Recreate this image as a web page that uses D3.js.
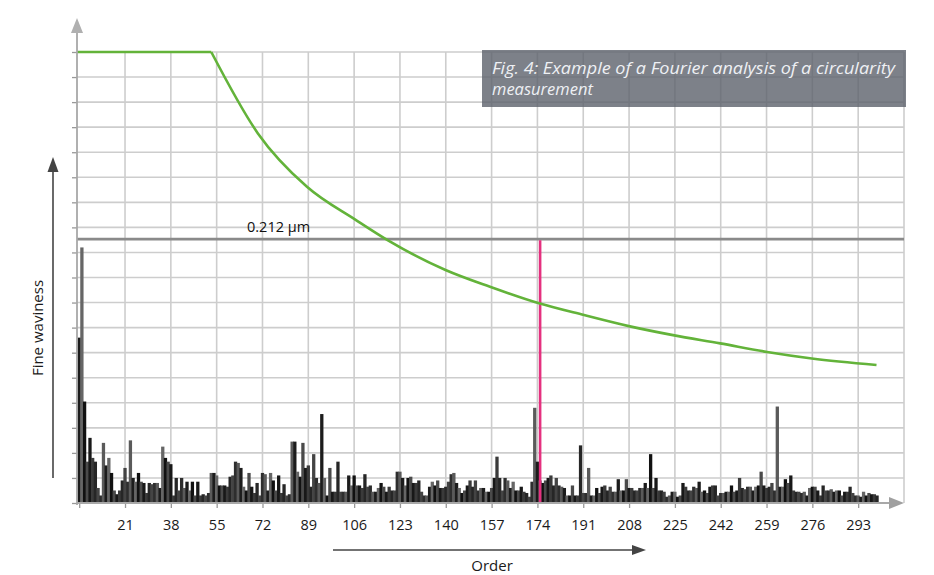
<!DOCTYPE html>
<html><head><meta charset="utf-8">
<script src="https://cdn.jsdelivr.net/npm/d3@7/dist/d3.min.js"></script>
<style>
body{margin:0;background:#fff;}
svg{display:block;font-family:"Open Sans","Noto Sans",sans-serif;}
</style>
</head><body>
<svg id="chart" width="934" height="575"></svg>
<script>
// ---------------- data ----------------
const xGridOrders = [4,21,38,55,72,89,106,123,140,157,174,191,208,225,242,259,276,293,310];
const xTickLabels = [21,38,55,72,89,106,123,140,157,174,191,208,225,242,259,276,293];
const yGridValues = [0,1,2,3,4,5,6,7,8,9,10,11,12,13,14,15,16,17,18];

const firstOrder = 4;
const amplitudes = [
 6.6,10.2,4.05,1.65,2.6,1.8,1.65,0.6,0.3,2.4,1.5,1.8,1.2,0.5,0.35,0.5,0.9,             // 4-20
 1.4,0.85,2.5,1.0,0.85,1.2,0.85,0.8,0.4,0.8,0.75,0.8,0.8,0.6,2.25,1.8,1.65,            // 21-37
 1.55,0.3,1.0,0.5,1.0,0.6,0.85,0.5,0.85,0.3,0.85,0.3,0.35,0.3,0.4,1.2,1.2,              // 38-54
 1.1,0.7,0.7,0.7,0.65,1.05,1.1,1.65,1.6,1.4,0.65,0.5,1.2,0.65,0.4,0.8,0.3,              // 55-71
 1.2,1.15,0.5,1.2,0.9,0.5,1.1,0.4,0.75,0.3,0.35,2.45,2.45,1.25,1.05,2.4,1.4,            // 72-88
 1.5,0.65,1.95,1.0,0.8,3.55,1.0,0.3,1.4,0.45,0.45,1.65,0.45,0.45,0.45,1.1,0.7,          // 89-105
 1.1,0.7,0.7,0.6,1.15,0.65,0.7,0.45,0.45,0.6,0.8,0.65,0.45,0.65,0.5,0.5,1.25,           // 106-122
 1.25,1.0,0.7,1.0,1.05,0.8,0.8,0.9,0.45,0.3,0.3,0.65,0.85,0.7,0.9,0.6,0.6,              // 123-139
 0.65,0.85,1.15,1.2,0.8,0.6,0.4,0.5,0.7,0.9,0.65,0.9,0.5,0.6,0.6,0.45,0.45,             // 140-156
 0.6,1.0,1.85,1.0,0.5,1.0,0.9,0.6,0.85,0.5,0.5,0.65,0.45,0.4,0.25,0.85,3.8,             // 157-173
 1.65,0.9,0.8,0.9,1.0,1.1,0.7,1.0,0.7,0.65,0.6,0.3,0.3,0.7,0.3,0.3,2.3,                 // 174-190
 0.4,0.4,1.4,0.3,0.3,0.6,0.4,0.65,0.7,0.5,0.65,0.45,0.45,0.95,0.5,0.5,0.95,             // 191-207
 0.6,0.6,0.5,0.5,0.6,0.6,0.8,0.6,1.95,0.6,1.0,0.5,0.5,0.45,0.25,0.3,0.45,               // 208-224
 0.45,0.25,0.3,0.8,0.65,0.5,0.5,0.65,0.6,0.85,0.45,0.5,0.4,0.65,0.7,0.7,0.3,            // 225-241
 0.4,0.4,0.45,0.45,0.7,0.45,0.5,1.0,0.6,0.55,0.65,0.65,0.5,0.65,0.7,1.25,0.7,           // 242-258
 0.6,0.65,0.8,0.5,3.85,0.65,0.65,0.95,0.8,1.1,0.5,0.45,0.45,0.4,0.45,0.3,0.6,           // 259-275
 0.65,0.65,0.5,0.3,0.7,0.5,0.5,0.55,0.45,0.5,0.5,0.3,0.45,0.45,0.65,0.4,0.3,            // 276-292
 0.3,0.25,0.45,0.3,0.4,0.35,0.35,0.3                                                     // 293-300
];

// limit (tolerance) curve
const limitOrders = [4,53,70.3,88.5,106.7,118.4,139.9,156.4,174.6,191.3,207.9,224.3,241.8,259.2,275.8,299.8];
const limitValues = [18,18,14.75,12.62,11.29,10.49,9.30,8.63,7.97,7.50,7.06,6.70,6.37,6.03,5.77,5.51];

const thresholdValue = 10.53;
const thresholdLabel = "0.212 µm";
const cutoffOrder = 175;
const barShades = ["#1c1c1c","#4a4a4a","#262626","#5a5a5a","#111111","#3a3a3a","#2e2e2e","#666666","#181818","#444444"];

const titleLines = ["Fig. 4: Example of a Fourier analysis of a circularity","measurement"];
const xAxisTitle = "Order";
const yAxisTitle = "Fine waviness";

// ---------------- drawing ----------------
const svg = d3.select("#chart");
const axisX0 = 77;
const x = d3.scaleLinear().domain([4, 310]).range([79.2, 904]);
const y = d3.scaleLinear().domain([0, 18]).range([503, 52]);
const step = x(5) - x(4);

const gridColor = "#cdcdcd";
// horizontal grid
svg.append("g").selectAll("line").data(yGridValues.filter(v => v > 0)).join("line")
  .attr("x1", axisX0).attr("x2", x(310))
  .attr("y1", d => y(d)).attr("y2", d => y(d))
  .attr("stroke", gridColor).attr("stroke-width", 1.6);
// vertical grid
svg.append("g").selectAll("line").data(xGridOrders.filter(o => o > 4)).join("line")
  .attr("x1", d => x(d)).attr("x2", d => x(d))
  .attr("y1", y(18)).attr("y2", y(0))
  .attr("stroke", gridColor).attr("stroke-width", 1.6);

// bars
const bars = amplitudes.map((v, i) => ({order: firstOrder + i, value: v, i}));
svg.append("g").selectAll("rect").data(bars).join("rect")
  .attr("x", d => x(d.order) - step / 2 - 0.3)
  .attr("width", step + 0.6)
  .attr("y", d => y(d.value))
  .attr("height", d => y(0) - y(d.value))
  .attr("fill", d => barShades[(d.i * 7) % barShades.length]);

// threshold line
svg.append("line")
  .attr("x1", axisX0).attr("x2", x(310))
  .attr("y1", y(thresholdValue)).attr("y2", y(thresholdValue))
  .attr("stroke", "#8a8a8a").attr("stroke-width", 2.6);
svg.append("text")
  .attr("x", 247).attr("y", y(thresholdValue) - 7)
  .attr("font-size", 14.5).attr("fill", "#111")
  .text(thresholdLabel);

// cutoff line
svg.append("line")
  .attr("x1", x(cutoffOrder)).attr("x2", x(cutoffOrder))
  .attr("y1", y(thresholdValue) + 1).attr("y2", y(0))
  .attr("stroke", "#e5307f").attr("stroke-width", 2.6);

// limit curve: flat plateau then smooth decline
const limitPts = limitOrders.map((o, i) => [o, limitValues[i]]);
const lineFlat = d3.line().x(d => d[0] === 4 ? axisX0 : x(d[0])).y(d => y(d[1]));
const lineCurve = d3.line().x(d => x(d[0])).y(d => y(d[1])).curve(d3.curveMonotoneX);
svg.append("path").attr("d", lineFlat(limitPts.slice(0, 2)))
  .attr("fill", "none").attr("stroke", "#63b33a").attr("stroke-width", 2.6);
svg.append("path").attr("d", lineCurve(limitPts.slice(1)))
  .attr("fill", "none").attr("stroke", "#63b33a").attr("stroke-width", 2.6);

// axes
const axisColor = "#a8a8a8";
const yAxis = svg.append("g").attr("transform", `translate(${axisX0},0)`)
  .call(d3.axisLeft(y).tickValues(yGridValues).tickSize(5).tickFormat(""));
yAxis.select(".domain").remove();
yAxis.selectAll(".tick line").attr("stroke", "#999").attr("stroke-width", 1.3);
svg.append("line").attr("x1", axisX0).attr("x2", axisX0).attr("y1", y(0) + 2).attr("y2", 30)
  .attr("stroke", axisColor).attr("stroke-width", 1.8);
svg.append("path").attr("d", `M${axisX0 - 6},33 L${axisX0},18 L${axisX0 + 6},33 Z`).attr("fill", "#b0b0b0");

const xAxis = svg.append("g").attr("transform", `translate(0,${y(0)})`)
  .call(d3.axisBottom(x).tickValues(xGridOrders.filter(o => o < 310)).tickSize(5)
    .tickFormat(d => xTickLabels.includes(d) ? d : ""));
xAxis.select(".domain").remove();
xAxis.selectAll(".tick line").attr("stroke", "#999").attr("stroke-width", 1.3);
xAxis.selectAll(".tick text").attr("font-size", 14.5).attr("fill", "#1a1a1a")
  .attr("font-family", "\"Open Sans\",sans-serif").attr("dy", "1.3em");
svg.append("line").attr("x1", axisX0).attr("x2", 892).attr("y1", y(0)).attr("y2", y(0))
  .attr("stroke", axisColor).attr("stroke-width", 1.8);
svg.append("path").attr("d", `M889,${y(0) - 6} L904,${y(0)} L889,${y(0) + 6} Z`).attr("fill", "#a0a0a0");

// axis titles with arrows
svg.append("line").attr("x1", 333).attr("x2", 636).attr("y1", 550).attr("y2", 550)
  .attr("stroke", "#444").attr("stroke-width", 1.6);
svg.append("path").attr("d", "M632,545 L646,550 L632,555 Z").attr("fill", "#444");
svg.append("text").attr("x", 492).attr("y", 571).attr("text-anchor", "middle")
  .attr("font-size", 15).attr("fill", "#1a1a1a").text(xAxisTitle);

svg.append("line").attr("x1", 53).attr("x2", 53).attr("y1", 478).attr("y2", 168)
  .attr("stroke", "#444").attr("stroke-width", 1.6);
svg.append("path").attr("d", "M47.5,172 L53,157 L58.5,172 Z").attr("fill", "#444");
svg.append("text").attr("transform", "translate(43,328) rotate(-90)")
  .attr("text-anchor", "middle").attr("font-size", 15).attr("fill", "#1a1a1a").text(yAxisTitle);

// caption box
svg.append("rect").attr("x", 482).attr("y", 50).attr("width", 424).attr("height", 57)
  .attr("fill", "#5d616c").attr("fill-opacity", 0.8);
const cap = svg.append("g").attr("font-style", "italic").attr("font-size", 16.5)
  .attr("fill", "#eef0f4");
cap.append("text").attr("x", 492).attr("y", 74).attr("textLength", 403)
  .attr("lengthAdjust", "spacingAndGlyphs").text(titleLines[0]);
cap.append("text").attr("x", 492).attr("y", 95).text(titleLines[1]);
</script>
</body></html>
